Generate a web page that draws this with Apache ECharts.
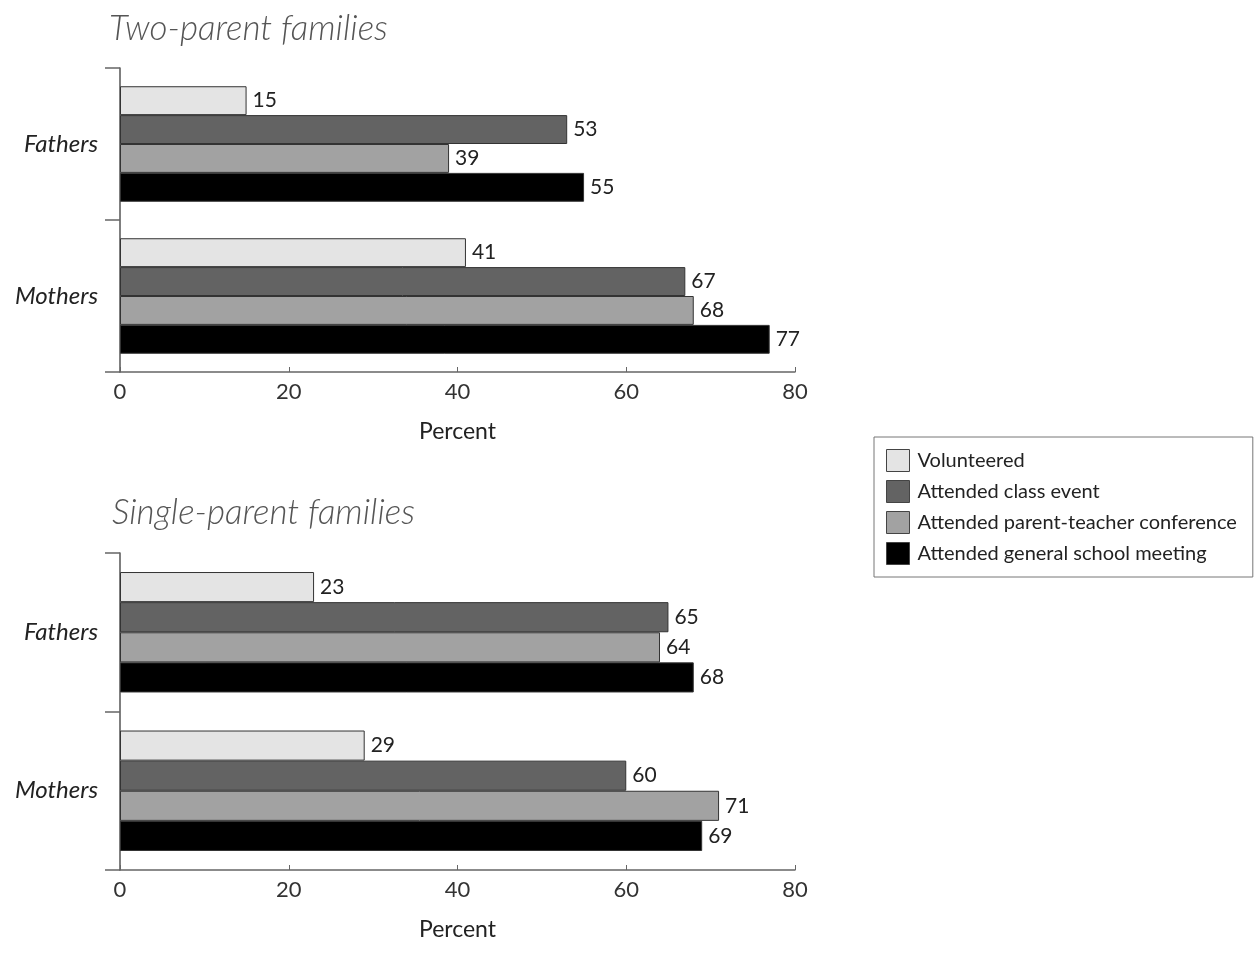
<!DOCTYPE html>
<html><head><meta charset="utf-8">
<script src="https://cdn.jsdelivr.net/npm/echarts@6/dist/echarts.min.js"></script>
<style>html,body{margin:0;padding:0;background:#fff}#c{width:1254px;height:961px}</style>
</head><body><div id="c"></div>
<script>
const categories = ['Fathers', 'Mothers'];
const seriesNames = ['Volunteered', 'Attended class event', 'Attended parent-teacher conference', 'Attended general school meeting'];
const twoParent = {
  'Volunteered': [15, 41],
  'Attended class event': [53, 67],
  'Attended parent-teacher conference': [39, 68],
  'Attended general school meeting': [55, 77]
};
const singleParent = {
  'Volunteered': [23, 29],
  'Attended class event': [65, 60],
  'Attended parent-teacher conference': [64, 71],
  'Attended general school meeting': [68, 69]
};
const panelTitles = ['Two-parent families', 'Single-parent families'];
const xTicks = [0, 20, 40, 60, 80];
const colors = ['#e4e4e4', '#636363', '#a2a2a2', '#000000'];
const FONT = 'Lato';

const chart = echarts.init(document.getElementById('c'));
function xAxis(i) {
  return {
    gridIndex: i, type: 'value', min: xTicks[0], max: xTicks[xTicks.length - 1], interval: 20,
    name: 'Percent', nameLocation: 'middle', nameGap: 48,
    nameTextStyle: {fontFamily: FONT, fontSize: 23, color: '#222'},
    axisLine: {show: true, lineStyle: {color: '#666', width: 1.5}},
    axisTick: {show: true, inside: true, length: 5, lineStyle: {color: '#666'}},
    axisLabel: {fontFamily: FONT, fontSize: 22, color: '#333', margin: 9},
    splitLine: {show: false}
  };
}
function yAxis(i) {
  return {
    gridIndex: i, type: 'category', data: categories, inverse: true,
    axisLine: {show: true, lineStyle: {color: '#555', width: 1.5}},
    axisTick: {show: true, length: 15, lineStyle: {color: '#666', width: 1.5}},
    axisLabel: {fontFamily: FONT, fontSize: 24, fontStyle: 'italic', color: '#222', margin: 22}
  };
}
const series = [];
[twoParent, singleParent].forEach((d, gi) => {
  seriesNames.forEach((n, si) => {
    series.push({
      type: 'bar', name: n, xAxisIndex: gi, yAxisIndex: gi, data: d[n],
      barGap: '0%', barCategoryGap: '24%',
      itemStyle: {color: colors[si], borderColor: '#333', borderWidth: 1},
      label: {show: true, position: 'right', distance: 6, fontFamily: FONT, fontSize: 21, color: '#222'},
      animation: false
    });
  });
});
chart.setOption({
  animation: false,
  color: colors,
  title: [
    {text: panelTitles[0], left: 104, top: 6, textStyle: {fontFamily: FONT, fontSize: 35, fontStyle: 'italic', fontWeight: 300, color: '#555'}},
    {text: panelTitles[1], left: 107, top: 490, textStyle: {fontFamily: FONT, fontSize: 35, fontStyle: 'italic', fontWeight: 300, color: '#555'}}
  ],
  legend: {
    data: seriesNames, orient: 'vertical', left: 874, top: 437,
    padding: [12, 16, 12, 12], itemWidth: 23, itemHeight: 22, itemGap: 8,
    borderColor: '#777', borderWidth: 1, icon: 'rect',
    itemStyle: {borderColor: '#444', borderWidth: 1},
    textStyle: {fontFamily: FONT, fontSize: 20, lineHeight: 22, color: '#222', padding: [0, 0, 0, 3]}
  },
  grid: [
    {left: 120, top: 68, width: 675, height: 304},
    {left: 120, top: 553, width: 675, height: 317}
  ],
  xAxis: [xAxis(0), xAxis(1)],
  yAxis: [yAxis(0), yAxis(1)],
  series: series
});
</script></body></html>
